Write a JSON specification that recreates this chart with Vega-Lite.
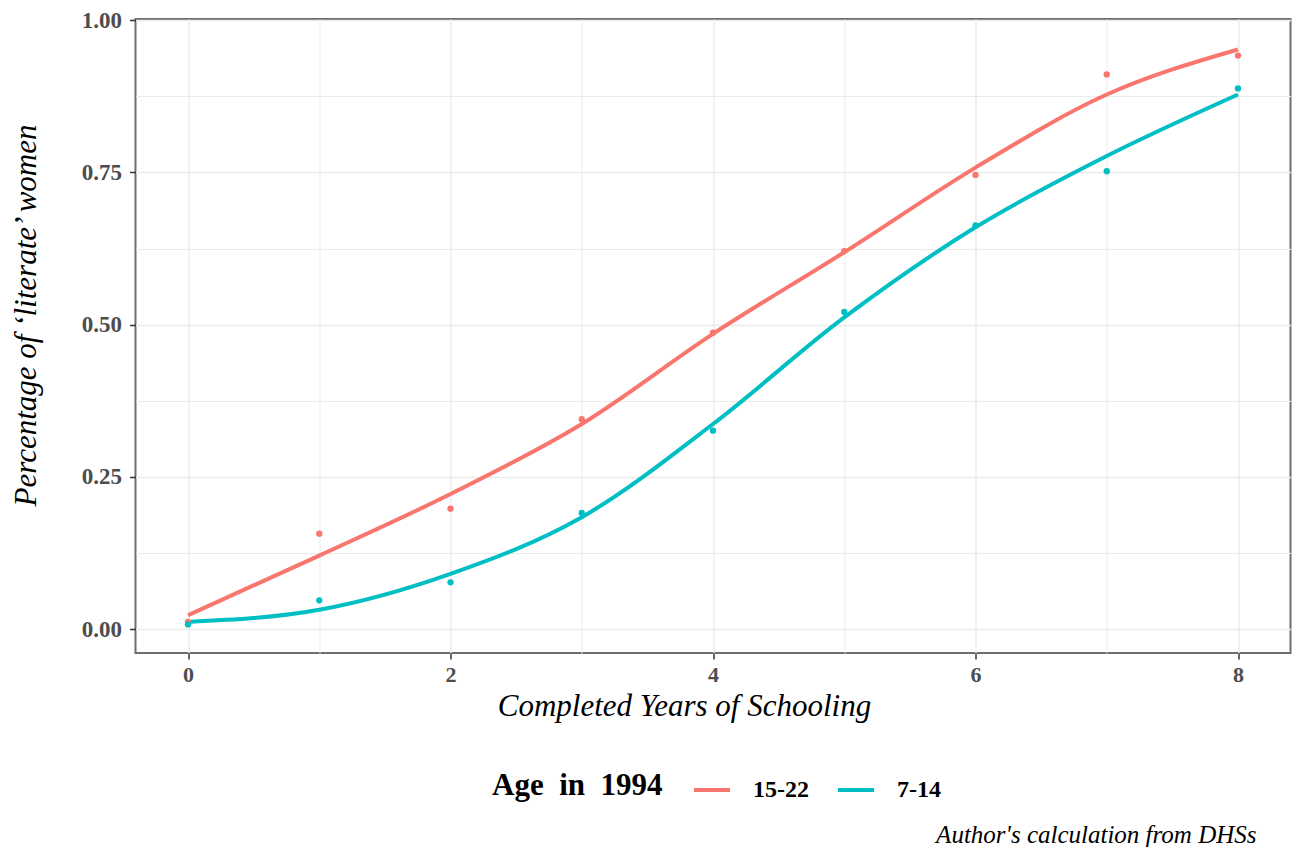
{
  "$schema": "https://vega.github.io/schema/vega-lite/v6.json",
  "width": 1155,
  "height": 634,
  "autosize": {"type": "none"},
  "padding": {"left": 135.5, "top": 19, "right": 2.5, "bottom": 194},
  "background": "white",
  "config": {
    "font": "Liberation Serif",
    "view": {"stroke": "#6e6e6e", "strokeWidth": 2}
  },
  "title": {
    "text": "Author's calculation from DHSs",
    "orient": "bottom",
    "anchor": "end",
    "frame": "group",
    "font": "Liberation Serif",
    "fontStyle": "italic",
    "fontWeight": "normal",
    "fontSize": 25,
    "color": "#000000",
    "offset": 10,
    "dx": -34,
    "dy": 11
  },
  "data": {
    "values": [
      {"years": 0, "age": "15-22", "share": 0.012, "fit": 0.023},
      {"years": 1, "age": "15-22", "share": 0.157, "fit": 0.121},
      {"years": 2, "age": "15-22", "share": 0.198, "fit": 0.222},
      {"years": 3, "age": "15-22", "share": 0.345, "fit": 0.337},
      {"years": 4, "age": "15-22", "share": 0.487, "fit": 0.485},
      {"years": 5, "age": "15-22", "share": 0.621, "fit": 0.619},
      {"years": 6, "age": "15-22", "share": 0.746, "fit": 0.758},
      {"years": 7, "age": "15-22", "share": 0.911, "fit": 0.878},
      {"years": 8, "age": "15-22", "share": 0.942, "fit": 0.952},
      {"years": 0, "age": "7-14", "share": 0.008, "fit": 0.012},
      {"years": 1, "age": "7-14", "share": 0.0475, "fit": 0.032},
      {"years": 2, "age": "7-14", "share": 0.077, "fit": 0.091},
      {"years": 3, "age": "7-14", "share": 0.191, "fit": 0.184},
      {"years": 4, "age": "7-14", "share": 0.326, "fit": 0.337},
      {"years": 5, "age": "7-14", "share": 0.521, "fit": 0.512},
      {"years": 6, "age": "7-14", "share": 0.663, "fit": 0.660},
      {"years": 7, "age": "7-14", "share": 0.752, "fit": 0.777},
      {"years": 8, "age": "7-14", "share": 0.888, "fit": 0.878}
    ]
  },
  "encoding": {
    "x": {
      "field": "years",
      "type": "quantitative",
      "scale": {"domain": [-0.4, 8.4], "nice": false, "zero": false},
      "axis": {
        "title": "Completed Years of Schooling",
        "values": [0, 1, 2, 3, 4, 5, 6, 7, 8],
        "labelExpr": "datum.value % 2 == 0 ? datum.label : ''",
        "domain": false,
        "grid": true,
        "gridColor": "#ebebeb",
        "gridWidth": {"condition": {"test": "datum.value % 2 == 1", "value": 1}, "value": 1.4},
        "tickColor": "#333333",
        "tickWidth": 1.5,
        "tickSize": 6,
        "tickOpacity": {"condition": {"test": "datum.value % 2 == 1", "value": 0}, "value": 1},
        "labelFont": "Liberation Serif",
        "labelFontWeight": "bold",
        "labelFontSize": 22,
        "labelColor": "#4d4d4d",
        "labelPadding": 5,
        "titleFont": "Liberation Serif",
        "titleFontStyle": "italic",
        "titleFontWeight": "normal",
        "titleFontSize": 31,
        "titleColor": "#000000",
        "titleX": 548.5,
        "titleY": 62,
        "titleBaseline": "alphabetic",
        "titleAlign": "center"
      }
    },
    "color": {
      "field": "age",
      "type": "nominal",
      "scale": {"domain": ["15-22", "7-14"], "range": ["#F8766D", "#00BFC4"]},
      "legend": {
        "title": "Age\u00a0\u00a0in\u00a0\u00a01994",
        "orient": "none",
        "legendX": 356.5,
        "legendY": 751,
        "direction": "horizontal",
        "titleOrient": "left",
        "titleFont": "Liberation Serif",
        "titleFontWeight": "bold",
        "titleFontSize": 31,
        "titleColor": "#000000",
        "titlePadding": 29,
        "titleBaseline": "middle",
        "labelFont": "Liberation Serif",
        "labelFontWeight": "bold",
        "labelFontSize": 24,
        "labelColor": "#000000",
        "labelOffset": 21,
        "columnPadding": 21,
        "symbolType": "stroke",
        "symbolStrokeWidth": 4,
        "symbolSize": 1296
      }
    }
  },
  "layer": [
    {
      "mark": {"type": "line", "strokeWidth": 4, "interpolate": "monotone"},
      "encoding": {
        "y": {
          "field": "fit",
          "type": "quantitative",
          "scale": {"domain": [-0.039, 1.002], "nice": false, "zero": false},
          "axis": {
            "title": "Percentage of ‘literate’ women",
            "values": [0, 0.125, 0.25, 0.375, 0.5, 0.625, 0.75, 0.875, 1],
            "labelExpr": "(datum.value * 4) % 1 == 0 ? format(datum.value, '.2f') : ''",
            "domain": false,
            "grid": true,
            "gridColor": "#ebebeb",
            "gridWidth": {"condition": {"test": "(datum.value * 4) % 1 != 0", "value": 1}, "value": 1.4},
            "tickColor": "#333333",
            "tickWidth": 1.5,
            "tickSize": 6,
            "tickOpacity": {"condition": {"test": "(datum.value * 4) % 1 != 0", "value": 0}, "value": 1},
            "labelFont": "Liberation Serif",
            "labelFontWeight": "bold",
            "labelFontSize": 23,
            "labelColor": "#4d4d4d",
            "labelPadding": 8,
            "titleFont": "Liberation Serif",
            "titleFontStyle": "italic",
            "titleFontWeight": "normal",
            "titleFontSize": 31,
            "titleColor": "#000000",
            "titleX": -109,
            "titleY": 296,
            "titleAngle": -90,
            "titleBaseline": "middle",
            "titleAlign": "center"
          }
        }
      }
    },
    {
      "mark": {"type": "point", "filled": true, "size": 40, "opacity": 1},
      "encoding": {
        "y": {"field": "share", "type": "quantitative"}
      }
    }
  ]
}
